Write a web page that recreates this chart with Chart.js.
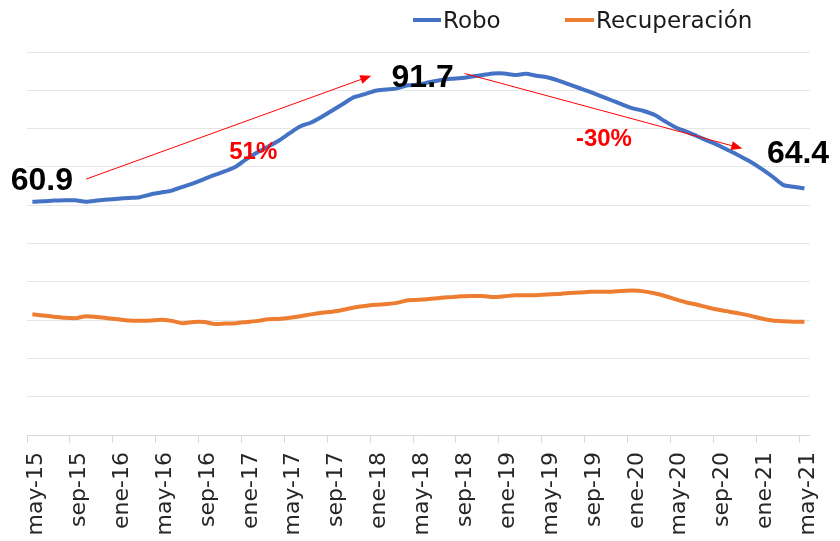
<!DOCTYPE html>
<html>
<head>
<meta charset="utf-8">
<script src="https://cdn.jsdelivr.net/npm/chart.js@4.4.1/dist/chart.umd.min.js"></script>
<style>
    html, body { margin: 0; padding: 0; background: #fff; }
    #wrap { width: 840px; height: 541px; }
</style>
</head>
<body>
<div id="wrap"><canvas id="chart" width="840" height="541"></canvas></div>
<script>
// Monthly categories, may-15 .. may-21
const labels = [
    'may-15', 'jun-15', 'jul-15', 'ago-15', 'sep-15', 'oct-15', 'nov-15', 'dic-15',
    'ene-16', 'feb-16', 'mar-16', 'abr-16', 'may-16', 'jun-16', 'jul-16', 'ago-16', 'sep-16', 'oct-16', 'nov-16', 'dic-16',
    'ene-17', 'feb-17', 'mar-17', 'abr-17', 'may-17', 'jun-17', 'jul-17', 'ago-17', 'sep-17', 'oct-17', 'nov-17', 'dic-17',
    'ene-18', 'feb-18', 'mar-18', 'abr-18', 'may-18', 'jun-18', 'jul-18', 'ago-18', 'sep-18', 'oct-18', 'nov-18', 'dic-18',
    'ene-19', 'feb-19', 'mar-19', 'abr-19', 'may-19', 'jun-19', 'jul-19', 'ago-19', 'sep-19', 'oct-19', 'nov-19', 'dic-19',
    'ene-20', 'feb-20', 'mar-20', 'abr-20', 'may-20', 'jun-20', 'jul-20', 'ago-20', 'sep-20', 'oct-20', 'nov-20', 'dic-20',
    'ene-21', 'feb-21', 'mar-21', 'abr-21', 'may-21'
];

const robo = [
    60.9, 61.0, 61.2, 61.3, 61.3, 60.9, 61.2, 61.5, 61.7, 61.9,
    62.1, 62.8, 63.3, 63.8, 64.8, 65.7, 66.8, 67.9, 68.9, 70.1,
    72.1, 73.8, 75.3, 76.9, 78.8, 80.6, 81.6, 83.1, 84.8, 86.5,
    88.2, 89.0, 89.9, 90.2, 90.5, 91.3, 91.5, 92.1, 92.6, 93.0,
    93.2, 93.6, 94.0, 94.4, 94.4, 94.0, 94.3, 93.8, 93.4, 92.6,
    91.6, 90.6, 89.6, 88.5, 87.4, 86.3, 85.3, 84.6, 83.6, 81.9,
    80.3, 79.2, 78.0, 76.8, 75.6, 74.2, 72.8, 71.3, 69.5, 67.5,
    65.3, 64.8, 64.4
];

const recuperacion = [
    31.5, 31.2, 30.9, 30.6, 30.5, 31.0, 30.8, 30.5, 30.2, 29.9,
    29.8, 29.9, 30.1, 29.8, 29.2, 29.5, 29.5, 29.0, 29.1, 29.2,
    29.5, 29.8, 30.2, 30.3, 30.6, 31.0, 31.5, 31.9, 32.2, 32.7,
    33.3, 33.7, 34.0, 34.2, 34.5, 35.2, 35.3, 35.5, 35.8, 36.0,
    36.2, 36.3, 36.3, 36.0, 36.2, 36.5, 36.5, 36.5, 36.7, 36.8,
    37.1, 37.2, 37.4, 37.4, 37.4, 37.6, 37.7, 37.5, 37.0, 36.3,
    35.4, 34.6, 34.0, 33.3, 32.7, 32.2, 31.7, 31.1, 30.4, 29.9,
    29.7, 29.6, 29.6
];

// Callouts placed in data space: [text, category index, value]
const valueNotes = [['60.9', 0.88, 66.4], ['91.7', 36.4, 93.2], ['64.4', 71.4, 73.4]];
const changeNotes = [['51%', 20.6, 73.9], ['-30%', 53.3, 77.2]];
// Arrows: [fromIndex, fromValue, toIndex, toValue]
const arrows = [[5.0, 66.8, 31.6, 93.8], [40.3, 94.4, 66.2, 74.8]];

const BLUE = '#4472C4';
const ORANGE = '#ED7D31';
const RED = '#FF0000';
const GRID = '#e6e6e6';

function drawArrow(ctx, x1, y1, x2, y2) {
    const a = Math.atan2(y2 - y1, x2 - x1);
    const len = 11, half = 4.5;
    ctx.beginPath();
    ctx.moveTo(x1, y1);
    ctx.lineTo(x2 - Math.cos(a) * len * 0.8, y2 - Math.sin(a) * len * 0.8);
    ctx.stroke();
    ctx.beginPath();
    ctx.moveTo(x2, y2);
    ctx.lineTo(x2 - Math.cos(a) * len - Math.sin(a) * half, y2 - Math.sin(a) * len + Math.cos(a) * half);
    ctx.lineTo(x2 - Math.cos(a) * len + Math.sin(a) * half, y2 - Math.sin(a) * len - Math.cos(a) * half);
    ctx.closePath();
    ctx.fill();
}

const notesPlugin = {
    id: 'notes',
    afterDatasetsDraw(chart) {
        const { ctx, scales: { x, y } } = chart;
        ctx.save();
        ctx.strokeStyle = RED;
        ctx.fillStyle = RED;
        ctx.lineWidth = 1;
        arrows.forEach(([i1, v1, i2, v2]) => {
            drawArrow(ctx, x.getPixelForValue(i1), y.getPixelForValue(v1),
                x.getPixelForValue(i2), y.getPixelForValue(v2));
        });
        ctx.textAlign = 'center';
        ctx.textBaseline = 'middle';
        ctx.font = 'bold 24px "Liberation Sans", Arial, sans-serif';
        changeNotes.forEach(([t, i, v]) => ctx.fillText(t, x.getPixelForValue(i), y.getPixelForValue(v)));
        ctx.fillStyle = '#000';
        ctx.font = 'bold 32px "Liberation Sans", Arial, sans-serif';
        valueNotes.forEach(([t, i, v]) => ctx.fillText(t, x.getPixelForValue(i), y.getPixelForValue(v)));
        ctx.restore();
    }
};

// Legend drawn by hand so the line/text spacing matches the original
const legendPlugin = {
    id: 'handLegend',
    afterDraw(chart) {
        const ctx = chart.ctx;
        const items = [[413, 443], [565, 596]];
        ctx.save();
        ctx.font = '23px "DejaVu Sans", sans-serif';
        ctx.textBaseline = 'alphabetic';
        ctx.textAlign = 'left';
        chart.data.datasets.forEach((ds, k) => {
            const [lx, tx] = items[k];
            ctx.strokeStyle = ds.borderColor;
            ctx.lineWidth = 4;
            ctx.beginPath();
            ctx.moveTo(lx, 20);
            ctx.lineTo(tx - 2, 20);
            ctx.stroke();
            ctx.fillStyle = '#1a1a1a';
            ctx.fillText(ds.label, tx, 28);
        });
        ctx.restore();
    }
};

new Chart(document.getElementById('chart'), {
    type: 'line',
    data: {
        labels: labels,
        datasets: [
            { label: 'Robo', data: robo, borderColor: BLUE, borderWidth: 4, pointRadius: 0, tension: 0.25 },
            { label: 'Recuperación', data: recuperacion, borderColor: ORANGE, borderWidth: 4, pointRadius: 0, tension: 0.25 }
        ]
    },
    options: {
        responsive: false,
        devicePixelRatio: 1,
        animation: false,
        layout: { padding: { left: 27, right: 20, top: 52, bottom: 0 } },
        scales: {
            x: {
                offset: true,
                afterFit: s => { s.height = 106; },
                border: { display: true, color: '#d9d9d9', width: 1 },
                grid: {
                    offset: true,
                    drawOnChartArea: false,
                    drawTicks: true,
                    tickLength: 8,
                    color: c => (c.index % 4 === 0 ? '#d9d9d9' : 'rgba(0,0,0,0)')
                },
                ticks: {
                    autoSkip: false,
                    minRotation: 90,
                    maxRotation: 90,
                    padding: 9,
                    labelOffset: 4,
                    color: '#262626',
                    font: { family: '"DejaVu Sans", sans-serif', size: 22 },
                    callback: (v, i) => (i % 4 === 0 ? labels[i] : '')
                }
            },
            y: {
                min: 0,
                max: 100,
                afterFit: s => { s.width = 0; },
                border: { display: false },
                grid: { color: GRID, lineWidth: 1, drawTicks: false },
                ticks: { display: false, stepSize: 10 }
            }
        },
        plugins: {
            legend: { display: false },
            tooltip: { enabled: false }
        }
    },
    plugins: [notesPlugin, legendPlugin]
});
</script>
</body>
</html>
